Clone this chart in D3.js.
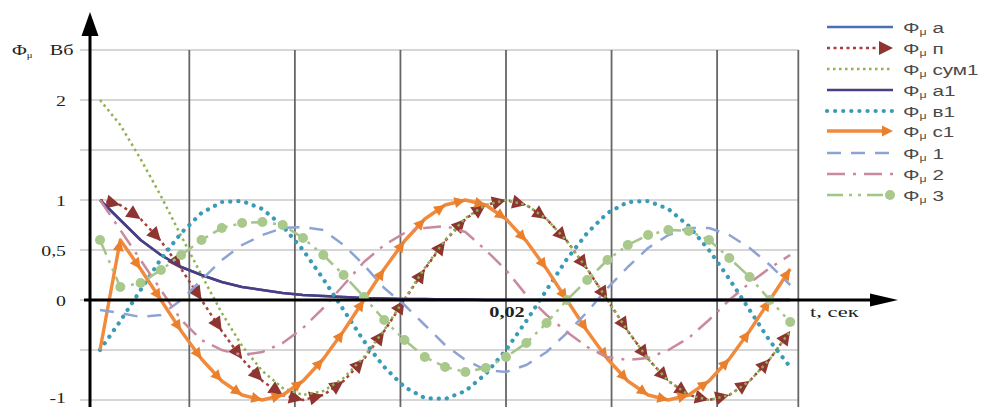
<!DOCTYPE html>
<html><head><meta charset="utf-8">
<script src="https://cdn.jsdelivr.net/npm/d3@7"></script>
<style>html,body{margin:0;padding:0;background:#fff;}svg{display:block;}</style>
</head><body>
<svg id="chart" width="996" height="407"></svg>
<script>
// ---- data (time in s, flux in Wb) ----
const times = [0,0.001,0.002,0.003,0.004,0.005,0.006,0.007,0.008,0.009,0.010,0.011,0.012,0.013,0.014,0.015,0.016,0.017,0.018,0.019,0.020,0.021,0.022,0.023,0.024,0.025,0.026,0.027,0.028,0.029,0.030,0.031,0.032,0.033,0.034];
const phiA   = [1.0,0.8,0.6,0.45,0.33,0.25,0.18,0.13,0.10,0.07,0.05,0.04,0.03,0.02,0.015,0.01,0.01,0.005,0.005,0,0,0,0,0,0,0,0,0,0,0,0,0,0,0,0];
const phiP   = [1,0.95,0.81,0.59,0.31,0,-0.31,-0.59,-0.81,-0.95,-1,-0.95,-0.81,-0.59,-0.31,0,0.31,0.59,0.81,0.95,1,0.95,0.81,0.59,0.31,0,-0.31,-0.59,-0.81,-0.95,-1,-0.95,-0.81,-0.59,-0.31];
const phiSum1= [2.0,1.75,1.41,1.04,0.64,0.25,-0.13,-0.46,-0.71,-0.88,-0.95,-0.91,-0.78,-0.57,-0.3,0.01,0.32,0.6,0.82,0.95,1.0,0.95,0.81,0.59,0.31,0,-0.31,-0.59,-0.81,-0.95,-1,-0.95,-0.81,-0.59,-0.31];
const phiA1  = [1.0,0.8,0.6,0.45,0.33,0.25,0.18,0.13,0.10,0.07,0.05,0.04,0.03,0.02,0.015,0.01,0.01,0.005,0.005,0,0,0,0,0,0,0,0,0,0,0,0,0,0,0,0];
const phiB1  = [-0.5,-0.21,0.1,0.41,0.67,0.87,0.98,0.99,0.91,0.74,0.5,0.21,-0.1,-0.41,-0.67,-0.87,-0.98,-0.99,-0.91,-0.74,-0.5,-0.21,0.1,0.41,0.67,0.87,0.98,0.99,0.91,0.74,0.5,0.21,-0.1,-0.41,-0.67];
const phiC1  = [-0.5,0.6,0.31,0,-0.31,-0.59,-0.81,-0.95,-1,-0.95,-0.81,-0.59,-0.31,0,0.31,0.59,0.81,0.95,1,0.95,0.81,0.59,0.31,0,-0.31,-0.59,-0.81,-0.95,-1,-0.95,-0.81,-0.59,-0.31,0,0.31];
const phi1   = [-0.1,-0.13,-0.17,-0.15,0.0,0.2,0.4,0.55,0.65,0.72,0.73,0.7,0.55,0.35,0.12,-0.05,-0.25,-0.45,-0.6,-0.7,-0.72,-0.65,-0.52,-0.33,-0.12,0.12,0.33,0.52,0.65,0.72,0.72,0.65,0.52,0.35,0.15];
const phi2   = [1.0,0.7,0.4,0.1,-0.2,-0.4,-0.5,-0.55,-0.52,-0.43,-0.28,-0.08,0.15,0.38,0.55,0.67,0.72,0.74,0.68,0.5,0.3,0.05,-0.15,-0.32,-0.47,-0.57,-0.6,-0.58,-0.5,-0.38,-0.2,0.0,0.17,0.32,0.45];
const phi3   = [0.6,0.13,0.17,0.3,0.45,0.6,0.72,0.77,0.78,0.75,0.62,0.45,0.25,0.03,-0.2,-0.4,-0.57,-0.67,-0.72,-0.68,-0.57,-0.43,-0.23,0.0,0.2,0.4,0.55,0.65,0.7,0.69,0.6,0.42,0.23,0.0,-0.22];

const seriesNames = ["а","п","сум1","а1","в1","с1","1","2","3"];
const yTickValues = [2, 1, 0.5, 0, -1];
const yTickLabels = ["2", "1", "0,5", "0", "-1"];
const yGridValues = [-1, -0.5, 0, 0.5, 1, 1.5, 2, 2.5];
const xGridTimes  = [0.0044, 0.0096, 0.0148, 0.02, 0.0252, 0.0304, 0.0344];
const xTickValue  = 0.02, xTickLabel = "0,02";
const xAxisTitle = "t, сек", yUnit = "Вб";

// ---- styles ----
const styles = [
  {data: phiA,   color:"#4a6fb5", w:2.5, dash:null},
  {data: phiP,   color:"#a83f3b", w:2.5, dash:"3,3.5", arrow:{fill:"#8f3531", len:14, half:7}},
  {data: phiSum1,color:"#8fb152", w:2.5, dash:"2.5,3.5"},
  {data: phiA1,  color:"#4b3d83", w:2.5, dash:null},
  {data: phiB1,  color:"#3a9bb6", w:4.2, dash:"0.1,8", cap:"round"},
  {data: phiC1,  color:"#f08a3c", w:3.4, dash:null, arrow:{fill:"#ea7f2c", len:11, half:5.5}},
  {data: phi1,   color:"#8ea3d5", w:2.5, dash:"14,10"},
  {data: phi2,   color:"#c98a9e", w:2.5, dash:"18,8,3,8"},
  {data: phi3,   color:"#a3c585", w:2.5, dash:"16,6,3,6,3,6", marker:{fill:"#a9c98c", r:5}}
];

const svg = d3.select("#chart");
const x = d3.scaleLinear().domain([0, 0.02]).range([100, 506]);
const y = d3.scaleLinear().domain([-1, 2.5]).range([400, 50]);
const serif = "'Liberation Serif','Times New Roman',serif";
const sans = "'Liberation Sans',Arial,sans-serif";

// gridlines
svg.append("g").selectAll("line").data(yGridValues).join("line")
  .attr("x1", 80).attr("x2", x(xGridTimes[xGridTimes.length-1]))
  .attr("y1", d => y(d)).attr("y2", d => y(d))
  .attr("stroke", "#c8c8c8").attr("stroke-width", 1.6);
svg.append("g").selectAll("line").data(xGridTimes).join("line")
  .attr("x1", d => x(d)).attr("x2", d => x(d))
  .attr("y1", y(2.5)).attr("y2", 407)
  .attr("stroke", "#666").attr("stroke-width", 1.8);

// series
const line = d3.line().x((d,i) => x(times[i])).y(d => y(d));
styles.forEach(s => {
  const g = svg.append("g");
  g.append("path").attr("d", line(s.data)).attr("fill","none")
    .attr("stroke", s.color).attr("stroke-width", s.w)
    .attr("stroke-dasharray", s.dash).attr("stroke-linecap", s.cap || "butt")
    .attr("stroke-linejoin","round");
  if (s.arrow) {
    const pts = s.data.map((d,i) => [x(times[i]), y(d)]);
    g.selectAll("path.arr").data(pts.slice(1)).join("path").attr("class","arr")
      .attr("d", `M0,0L${-s.arrow.len},${-s.arrow.half}L${-s.arrow.len},${s.arrow.half}Z`)
      .attr("fill", s.arrow.fill)
      .attr("transform", (p,k) => {
        const a = Math.atan2(p[1]-pts[k][1], p[0]-pts[k][0]) * 180/Math.PI;
        return `translate(${p[0]},${p[1]}) rotate(${a})`;
      });
  }
  if (s.marker) {
    g.selectAll("circle").data(s.data).join("circle")
      .attr("cx", (d,i) => x(times[i])).attr("cy", d => y(d))
      .attr("r", s.marker.r).attr("fill", s.marker.fill);
  }
});

// axes with arrows
const ax = svg.append("g");
ax.append("line").attr("x1", 84).attr("x2", 876).attr("y1", y(0)).attr("y2", y(0))
  .attr("stroke","#000").attr("stroke-width",3);
ax.append("path").attr("d", `M898,${y(0)}L870,${y(0)-6.5}L870,${y(0)+6.5}Z`).attr("fill","#000");
ax.append("line").attr("x1", 90).attr("x2", 90).attr("y1", 407).attr("y2", 32)
  .attr("stroke","#000").attr("stroke-width",3);
ax.append("path").attr("d", "M90,12L81.5,36L98.5,36Z").attr("fill","#000");

// y tick labels (horizontally stretched like the reference)
svg.append("g").selectAll("text").data(yTickValues).join("text")
  .attr("transform", d => `translate(66,${d === -1 ? y(d) + 3 : y(d) + 5.5}) scale(1.32,1)`)
  .attr("text-anchor","end")
  .attr("font-family", serif).attr("font-size", 15).attr("fill","#222")
  .text((d,i) => yTickLabels[i]);
// y unit label
const yl = svg.append("text").attr("transform", "translate(12,55) scale(1.35,1)")
  .attr("font-family", serif).attr("font-size", 15).attr("fill","#222");
yl.append("tspan").text("Φ");
yl.append("tspan").attr("font-size", 8).attr("dy", 3).text("μ");
yl.append("tspan").attr("dy", -3).attr("x", 28).text(yUnit);

// x tick label and title
svg.append("text").attr("transform", `translate(${x(xTickValue)+1},${y(0)+17}) scale(1.45,1)`)
  .attr("text-anchor","middle")
  .attr("font-family", serif).attr("font-weight","bold").attr("font-size", 14).attr("fill","#222")
  .text(xTickLabel);
svg.append("text").attr("transform", `translate(810,${y(0)+17}) scale(1.5,1)`)
  .attr("font-family", serif).attr("font-size", 15).attr("fill","#222").text(xAxisTitle);

// legend
const legY = [27, 48, 69, 90, 111, 131, 153, 174, 195];
const lg = svg.append("g");
styles.forEach((s, i) => {
  const yy = legY[i];
  const x0 = 827, x1 = 893;
  lg.append("line").attr("x1", x0).attr("x2", s.arrow ? x1 - s.arrow.len + 2 : x1)
    .attr("y1", yy).attr("y2", yy).attr("stroke", s.color).attr("stroke-width", s.w)
    .attr("stroke-dasharray", s.dash).attr("stroke-linecap", s.cap || "butt");
  if (s.arrow) lg.append("path")
    .attr("d", `M${x1},${yy}L${x1-s.arrow.len},${yy-s.arrow.half}L${x1-s.arrow.len},${yy+s.arrow.half}Z`)
    .attr("fill", s.arrow.fill);
  if (s.marker) lg.append("circle").attr("cx", x1-3).attr("cy", yy).attr("r", s.marker.r).attr("fill", s.marker.fill);
  const t = lg.append("text").attr("transform", `translate(903,${yy + 5.5}) scale(1.38,1)`)
    .attr("font-family", sans).attr("font-size", 15).attr("fill","#4a4a4a");
  t.append("tspan").text("Φ");
  t.append("tspan").attr("font-size", 9).attr("dy", 2).text("μ");
  t.append("tspan").attr("dy", -2).text(" " + seriesNames[i]);
});
</script>
</body></html>
